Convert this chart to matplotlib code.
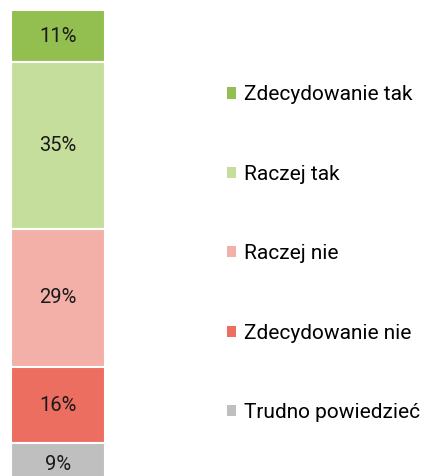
import matplotlib.pyplot as plt
from matplotlib.patches import Patch

plt.rcParams['font.family'] = ['Roboto', 'DejaVu Sans']

# Data
categories = ["Zdecydowanie tak", "Raczej tak", "Raczej nie", "Zdecydowanie nie", "Trudno powiedzieć"]
values = [11, 35, 29, 16, 9]
colors = ["#92bf50", "#c5de9b", "#f2b0a8", "#ec6e60", "#bfbfbf"]

fig = plt.figure(figsize=(4.26, 4.76), dpi=100)
ax = fig.add_axes([11 / 426, -10 / 476, 94 / 426, 476 / 476])

# Stack from top to bottom
top = 100
for cat, val, col in zip(categories, values, colors):
    ax.bar(0, val, bottom=top - val, width=1, color=col, edgecolor="white", linewidth=1.5)
    ax.text(0, top - val / 2, f"{val}%", ha="center", va="center", fontsize=14.5, color="#1a1a1a")
    top -= val

ax.set_xlim(-0.5, 0.5)
ax.set_ylim(0, 100)
ax.axis("off")

handles = [Patch(facecolor=c, edgecolor="none") for c in colors]
fig.legend(handles, categories, loc="center left", bbox_to_anchor=(227 / 426, 0.467),
           frameon=False, fontsize=15, handlelength=0.45, handleheight=0.45,
           handletextpad=0.35, labelspacing=2.9, borderpad=0, borderaxespad=0)

fig.savefig("out.png", dpi=100)
plt.close(fig)
